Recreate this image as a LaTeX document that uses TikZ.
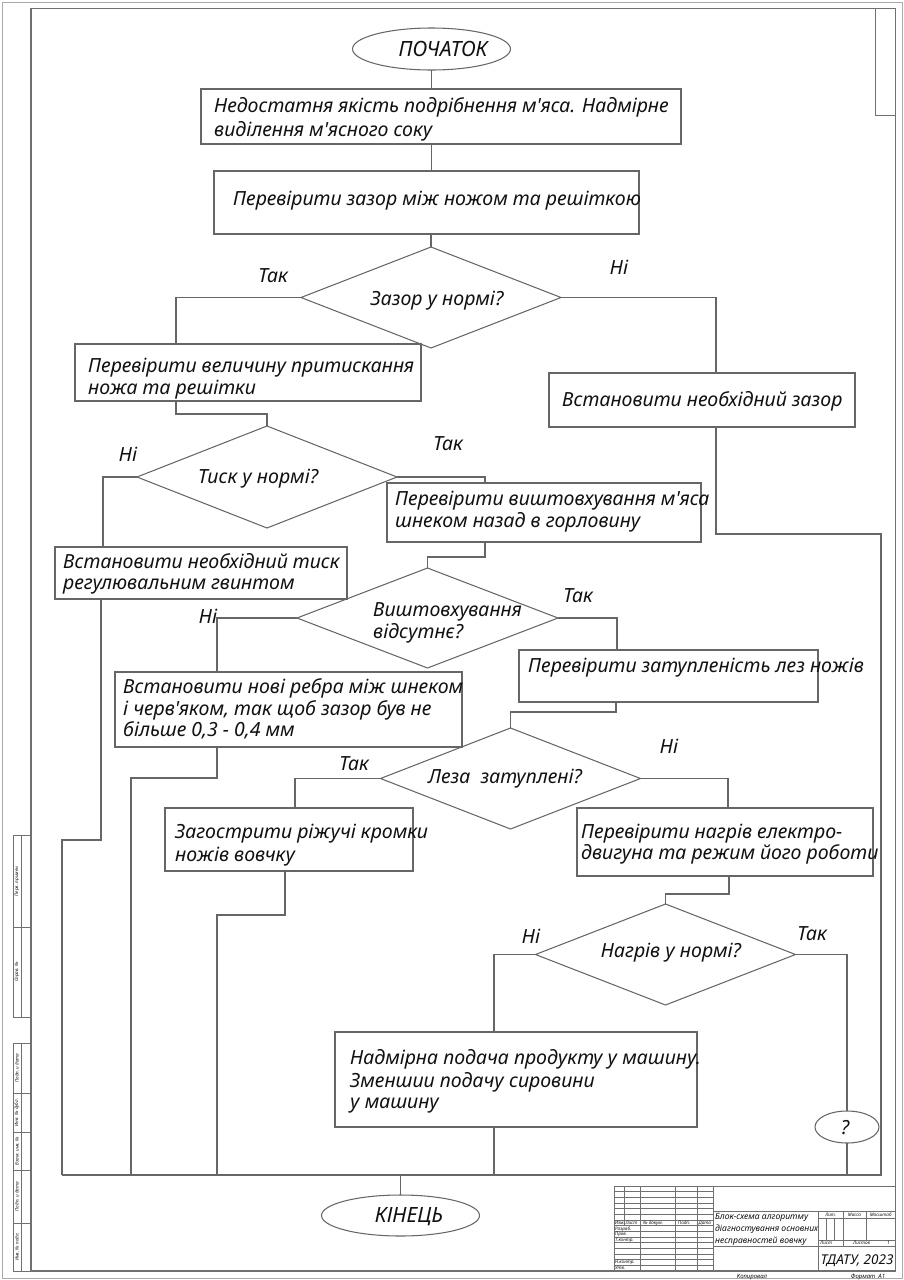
\documentclass[tikz,border=0pt]{standalone}
\usepackage{fontspec}
\setmainfont{Noto Sans}
\usetikzlibrary{shapes.geometric}
\definecolor{lncol}{HTML}{666666}
\definecolor{frcol}{HTML}{707070}
\definecolor{txtcol}{HTML}{111111}
\newcommand\mfont{\itshape\fontsize{19.5}{22}\selectfont}
\newcommand\efont{\itshape\fontsize{21}{24}\selectfont}
\newcommand\tbfont{\itshape\fontsize{4.6}{5}\selectfont}
\newcommand\pbox[5]{\node[boxn,minimum width={(#4-#2)*1pt},minimum height={(#5-#3)*1pt}] (#1) at ({(#2+#4)/2},{(#3+#5)/2}) {};}
\newcommand\ap{\textquotesingle}
\begin{document}
\begin{tikzpicture}[x=1pt,y=-1pt,
  ln/.style={draw=lncol,line width=1.05pt},
  boxn/.style={draw=lncol,line width=1.05pt,rectangle,inner sep=0pt,outer sep=0pt},
  dia/.style={draw=lncol,line width=1.05pt,diamond,inner sep=0pt,outer sep=0pt},
  ell/.style={draw=lncol,line width=1.05pt,ellipse,inner sep=0pt,outer sep=0pt},
  txt/.style={anchor=base west,inner sep=0pt,text=txtcol,font=\mfont},
  ctxt/.style={anchor=base,inner sep=0pt,text=txtcol,font=\mfont},
  fr/.style={draw=frcol,line width=1.2pt},
  tb/.style={draw=frcol,line width=0.6pt},
  tbt/.style={anchor=base west,inner sep=0pt,text=txtcol,font=\tbfont},
  tbc/.style={anchor=base,inner sep=0pt,text=txtcol,font=\tbfont},
  strip/.style={rotate=90,inner sep=0pt,text=txtcol,font=\tbfont},
]
\useasboundingbox (0,0) rectangle (904,1280);
\fill[white] (0,0) rectangle (904,1280);

% ---------- frames ----------
\draw[draw=frcol!60,line width=1pt] (2,2) rectangle (902,1278);
\draw[fr] (31,8.5) rectangle (895.5,1271);
\draw[tb] (875,8.5) -- (875,115) -- (895.5,115);

% left margin strips
\draw[tb] (13,835) rectangle (31,1017);
\draw[tb] (21,835) -- (21,1017);
\draw[tb] (13,927) -- (31,927);
\node[strip] (s1) at (17,881) {Перв. примен.};
\node[strip] (s2) at (17,972) {Справ. №};
\draw[tb] (13,1043) rectangle (31,1271);
\draw[tb] (21,1043) -- (21,1271);
\foreach \yy in {1093,1132,1170,1223} \draw[tb] (13,\yy) -- (31,\yy);
\node[strip] (s3) at (17,1068) {Подп. и дата};
\node[strip] (s4) at (17,1112.5) {Инв. № дубл.};
\node[strip] (s5) at (17,1151) {Взам. инв. №};
\node[strip] (s6) at (17,1196.5) {Подп. и дата};
\node[strip] (s7) at (17,1247) {Инв. № подл.};

% ---------- title block ----------
\draw[tb] (614,1186) -- (895.5,1186);
\draw[tb] (614,1186) -- (614,1271);
\foreach \xx in {640.3,675.3,697.3,713} \draw[tb] (\xx,1186) -- (\xx,1271);
\draw[tb] (624.7,1186) -- (624.7,1225.7);
\foreach \i in {1,...,14} \draw[tb] (614,{1186+\i*5.6667}) -- (713,{1186+\i*5.6667});
\draw[tb] (713,1211) -- (895.5,1211);
\draw[tb] (818.5,1211) -- (818.5,1271);
\draw[tb] (818.5,1218) -- (895.5,1218);
\draw[tb] (818.5,1240) -- (895.5,1240);
\draw[tb] (713,1246) -- (895.5,1246);
\draw[tb] (843,1211) -- (843,1246);
\draw[tb] (866,1211) -- (866,1240);
\draw[tb] (826.5,1218) -- (826.5,1240);
\draw[tb] (834.5,1218) -- (834.5,1240);
\node[tbt] (h1) at (614.8,1224.3) {Изм.};
\node[tbt] (h2) at (625.3,1224.3) {Лист};
\node[tbt] (h3) at (643,1224.3) {№ докум.};
\node[tbt] (h4) at (678,1224.3) {Подп.};
\node[tbt] (h5) at (698.5,1224.3) {Дата};
\node[tbt] (r1) at (615,1230.2) {Разраб.};
\node[tbt] (r2) at (615,1235.8) {Пров.};
\node[tbt] (r3) at (615,1241.5) {Т.контр.};
\node[tbt] (r4) at (615,1263.8) {Н.контр.};
\node[tbt] (r5) at (615,1269.5) {Утв.};
\node[anchor=base west,inner sep=0pt,text=txtcol,font=\itshape\fontsize{8.6}{10}\selectfont] (nm1) at (715,1219.7) {Блок-схема алгоритму};
\node[anchor=base west,inner sep=0pt,text=txtcol,font=\itshape\fontsize{8.6}{10}\selectfont] (nm2) at (715,1231.5) {діагностування основних};
\node[anchor=base west,inner sep=0pt,text=txtcol,font=\itshape\fontsize{8.6}{10}\selectfont] (nm3) at (715,1243.3) {несправностей вовчку};
\node[tbc] (lt) at (830.7,1216.3) {Лит.};
\node[tbc] (ms) at (854.5,1216.3) {Масса};
\node[tbc] (msh) at (880.7,1216.3) {Масштаб};
\node[tbt] (ls) at (820,1244.6) {Лист};
\node[tbt] (lss) at (853,1244.6) {Листов};
\node[tbt] (lsn) at (887,1244.6) {1};
\node[anchor=base,inner sep=0pt,text=txtcol,font=\itshape\fontsize{13.5}{15}\selectfont] (org) at (857,1264.8) {ТДАТУ, 2023};
\node[anchor=base,inner sep=0pt,text=txtcol,font=\itshape\fontsize{6}{7}\selectfont] (cop) at (752,1278.3) {Копировал};
\node[anchor=base,inner sep=0pt,text=txtcol,font=\itshape\fontsize{6}{7}\selectfont] (fmt) at (868,1278.3) {Формат\ \ А1};

% ---------- flowchart nodes ----------
\node[ell,minimum width=158pt,minimum height=42pt] (start) at (431.5,49) {};
\node[anchor=base,inner sep=0pt,text=txtcol,font=\efont] (tst) at (443,56.5) {ПОЧАТОК};

\pbox{b1}{201}{89}{681}{144}
\node[txt] (t1a) at (214,112) {Недостатня якість подрібнення м\ap яса. Надмірне};
\node[txt] (t1b) at (214,136) {виділення м\ap ясного соку};

\pbox{b2}{214}{171}{639}{234}
\node[txt] (t2) at (233,205) {Перевірити зазор між ножом та решіткою};

\node[dia,minimum width=260pt,minimum height=101pt] (d1) at (431,297.5) {};
\node[ctxt] (td1) at (437,305) {Зазор у нормі?};
\node[ctxt] (l1) at (273,282) {Так};
\node[ctxt] (l2) at (619,274) {Ні};

\pbox{b3}{75}{344}{421}{401}
\node[txt] (t3a) at (88,372) {Перевірити величину притискання};
\node[txt] (t3b) at (88,394) {ножа та решітки};

\pbox{b4}{549}{373}{855}{427}
\node[txt] (t4) at (562,406) {Встановити необхідний зазор};

\node[dia,minimum width=260pt,minimum height=102pt] (d2) at (267,477) {};
\node[ctxt] (td2) at (258,483) {Тиск у нормі?};
\node[ctxt] (l3) at (128,461) {Ні};
\node[ctxt] (l4) at (448,450) {Так};

\pbox{b5}{55}{547}{347}{599}
\node[txt] (t5a) at (63,568) {Встановити необхідний тиск};
\node[txt] (t5b) at (63,589) {регулювальним гвинтом};

\pbox{b6}{387}{483}{701}{542}
\node[txt] (t6a) at (395,505) {Перевірити виштовхування м\ap яса};
\node[txt] (t6b) at (395,527) {шнеком назад в горловину};

\node[dia,minimum width=261pt,minimum height=100pt] (d3) at (427.5,618) {};
\node[txt] (td3a) at (373,616) {Виштовхування};
\node[txt] (td3b) at (373,638) {відсутнє?};
\node[ctxt] (l5) at (208,623) {Ні};
\node[ctxt] (l6) at (578,602) {Так};

\pbox{b7}{115}{672}{462}{747}
\node[txt] (t7a) at (123,693) {Встановити нові ребра між шнеком};
\node[txt] (t7b) at (123,715) {і черв\ap яком, так щоб зазор був не};
\node[txt] (t7c) at (123,736) {більше 0,3 - 0,4 мм};

\pbox{b8}{519}{650}{818}{702}
\node[txt] (t8) at (528,672) {Перевірити затупленість лез ножів};

\node[dia,minimum width=260pt,minimum height=101pt] (d4) at (510.5,778.5) {};
\node[ctxt] (td4) at (505,783) {Леза\ \ затуплені?};
\node[ctxt] (l7) at (354,770) {Так};
\node[ctxt] (l8) at (669,753) {Ні};

\pbox{b9}{165}{808}{413}{871}
\node[txt] (t9a) at (175,838) {Загострити ріжучі кромки};
\node[txt] (t9b) at (175,861) {ножів вовчку};

\pbox{b10}{577}{808}{873}{876}
\node[txt] (t10a) at (581,838) {Перевірити нагрів електро-};
\node[txt] (t10b) at (581,859) {двигуна та режим його роботи};

\node[dia,minimum width=260pt,minimum height=101pt] (d5) at (665.5,954.5) {};
\node[ctxt] (td5) at (671,957) {Нагрів у нормі?};
\node[ctxt] (l9) at (531,943) {Ні};
\node[ctxt] (l10) at (812,940) {Так};

\pbox{b11}{335}{1032}{697}{1127}
\node[txt] (t11a) at (350,1064) {Надмірна подача продукту у машину.};
\node[txt] (t11b) at (350,1087) {Зменшии подачу сировини};
\node[txt] (t11c) at (350,1108) {у машину};

\node[ell,minimum width=64pt,minimum height=32pt] (q) at (847,1127) {};
\node[ctxt] (tq) at (845,1134) {?};

\node[ell,minimum width=158pt,minimum height=41pt] (end) at (400.5,1215.5) {};
\node[anchor=base,inner sep=0pt,text=txtcol,font=\efont] (tend) at (409,1222.5) {КІНЕЦЬ};

% ---------- connectors ----------
\coordinate (kA) at (176,298);
\coordinate (kB) at (716,298);
\coordinate (kC) at (716,534);
\coordinate (kD) at (881,534);
\coordinate (busR) at (881,1175);
\coordinate (busL) at (62,1175);
\coordinate (kE) at (176,414);
\coordinate (kF) at (103,477);
\coordinate (kG) at (485,477);
\coordinate (kH) at (101,840);
\coordinate (kI) at (62,840);
\coordinate (kJ) at (485,557);
\coordinate (kK) at (217,619);
\coordinate (kL) at (617,619);
\coordinate (kM) at (217,778);
\coordinate (kN) at (131,778);
\coordinate (kO) at (616,712);
\coordinate (kP) at (295,779);
\coordinate (kQ) at (728,779);
\coordinate (kR) at (285,915);
\coordinate (kS) at (217,915);
\coordinate (kT) at (729,894);
\coordinate (kU) at (494,954);

\draw[ln] (start.south) -- (start.south |- b1.north);
\draw[ln] (b1.south -| start.south) -- (b2.north -| start.south);
\draw[ln] (b2.south -| d1.north) -- (d1.north);
\draw[ln] (d1.west) -| (b3.north -| kA);
\draw[ln] (d1.east) -| (b4.north -| kB);
\draw[ln] (b4.south -| kC) -- (kC) -- (kD) -- (busR) -- (busL);
\draw[ln] (b3.south -| kE) -- (kE) -- (kE -| d2.north) -- (d2.north);
\draw[ln] (d2.west) -| (b5.north -| kF);
\draw[ln] (d2.east) -| (b6.north -| kG);
\draw[ln] (b5.south -| kH) -- (kH) -- (kI) -- (busL);
\draw[ln] (b6.south -| kJ) -- (kJ) -- (kJ -| d3.north) -- (d3.north);
\draw[ln] (d3.west) -| (b7.north -| kK);
\draw[ln] (d3.east) -| (b8.north -| kL);
\draw[ln] (b7.south -| kM) -- (kM) -- (kN) -- (kN |- busL);
\draw[ln] (b8.south -| kO) -- (kO) -- (kO -| d4.north) -- (d4.north);
\draw[ln] (d4.west) -| (b9.north -| kP);
\draw[ln] (d4.east) -| (b10.north -| kQ);
\draw[ln] (b9.south -| kR) -- (kR) -- (kS) -- (kS |- busL);
\draw[ln] (b10.south -| kT) -- (kT) -- (kT -| d5.north) -- (d5.north);
\draw[ln] (d5.west) -| (b11.north -| kU);
\draw[ln] (d5.east) -| (q.north);
\draw[ln] (b11.south -| kU) -- (busL -| kU);
\draw[ln] (q.south) -- (q.south |- busL);
\draw[ln] (busL -| end.north) -- (end.north);
\end{tikzpicture}
\end{document}
